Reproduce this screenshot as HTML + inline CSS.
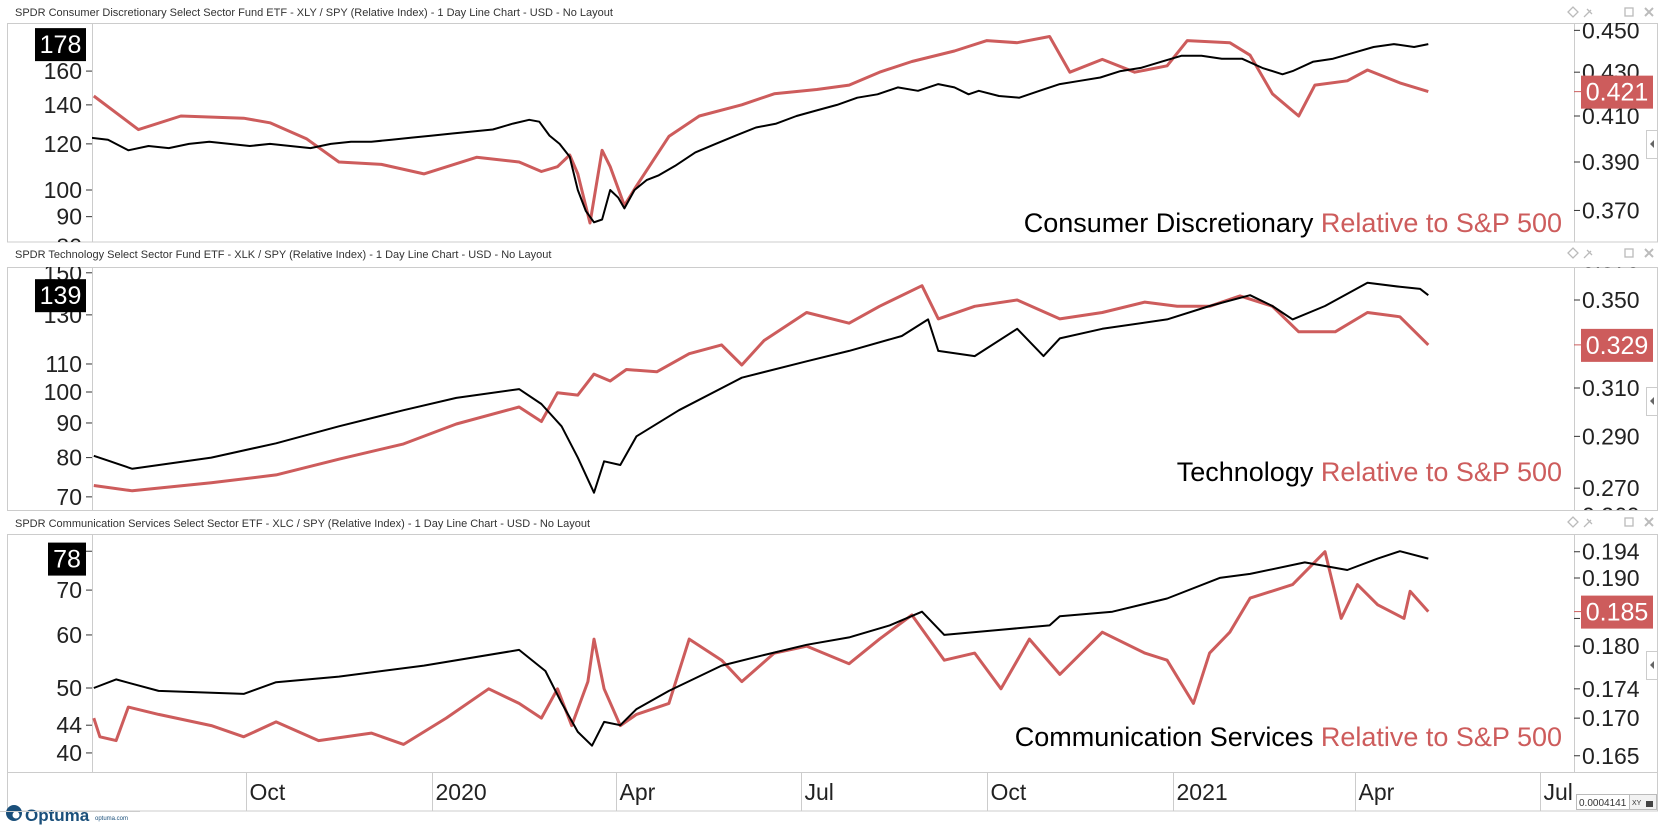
<!DOCTYPE html>
<html><head><meta charset="utf-8"><title>Sector relative charts</title>
<style>
html,body{margin:0;padding:0;background:#fff;}
svg{display:block;font-family:"Liberation Sans",sans-serif;}
.ttl{font-size:11px;fill:#333;}
.ax{font-size:23px;fill:#222;}
.xl{font-size:23px;fill:#222;}
</style></head>
<body>
<svg id="chart" width="1665" height="827" viewBox="0 0 1665 827" xmlns="http://www.w3.org/2000/svg">
<defs>
<clipPath id="cp1"><rect x="7" y="23" width="1651" height="219"/></clipPath>
<clipPath id="cp2"><rect x="7" y="267" width="1651" height="243"/></clipPath>
<clipPath id="cp3"><rect x="7" y="534" width="1651" height="238"/></clipPath>
<clipPath id="pp1"><rect x="92" y="23" width="1482" height="219"/></clipPath>
<clipPath id="pp2"><rect x="92" y="267" width="1482" height="243"/></clipPath>
<clipPath id="pp3"><rect x="92" y="534" width="1482" height="238"/></clipPath>
</defs>
<rect width="1665" height="827" fill="#fff"/>
<text class="ttl" x="15" y="16">SPDR Consumer Discretionary Select Sector Fund ETF - XLY / SPY (Relative Index) - 1 Day Line Chart - USD - No Layout</text>
<text class="ttl" x="15" y="258">SPDR Technology Select Sector Fund ETF - XLK / SPY (Relative Index) - 1 Day Line Chart - USD - No Layout</text>
<text class="ttl" x="15" y="527">SPDR Communication Services Select Sector ETF - XLC / SPY (Relative Index) - 1 Day Line Chart - USD - No Layout</text>
<g id="icons" fill="none" stroke="#bbb" stroke-width="1.3"></g>
<rect x="7.5" y="23.5" width="1650" height="218.5" fill="none" stroke="#ccc"/>
<rect x="7.5" y="267.5" width="1650" height="243" fill="none" stroke="#ccc"/>
<rect x="7.5" y="534.5" width="1650" height="238" fill="none" stroke="#ccc"/>
<g stroke="#ccc">
<line x1="92.5" y1="23" x2="92.5" y2="242"/><line x1="1574.5" y1="23" x2="1574.5" y2="242"/>
<line x1="92.5" y1="267" x2="92.5" y2="510"/><line x1="1574.5" y1="267" x2="1574.5" y2="510"/>
<line x1="92.5" y1="534" x2="92.5" y2="772"/><line x1="1574.5" y1="534" x2="1574.5" y2="772"/>
</g>
<rect x="7.5" y="772.5" width="1650" height="38.5" fill="none" stroke="#ccc"/>
<g id="xaxis"></g>
<g id="p1" clip-path="url(#cp1)"></g>
<g id="p2" clip-path="url(#cp2)"></g>
<g id="p3" clip-path="url(#cp3)"></g>
<g fill="#fff" stroke="#ccc">
<rect x="1646.5" y="130.5" width="11" height="28"/>
<rect x="1646.5" y="387.5" width="11" height="28"/>
<rect x="1646.5" y="651.5" width="11" height="28"/>
</g>
<g fill="#666"><path d="M1654 140 l-4 4 l4 4z"/><path d="M1654 397 l-4 4 l4 4z"/><path d="M1654 661 l-4 4 l4 4z"/></g>
<g>
<circle cx="14" cy="813" r="8" fill="#1a4f7a"/><circle cx="16" cy="815" r="3.5" fill="#fff"/>
<text x="25" y="821" font-size="17" fill="#1a4f7a" font-weight="bold">Optuma</text>
<text x="95" y="820" font-size="6" fill="#1a4f7a">optuma.com</text>
</g>
<line x1="0" y1="811.5" x2="140" y2="811.5" stroke="#ccc"/>
<g>
<rect x="1576.5" y="794.5" width="53" height="15" fill="#fff" stroke="#bbb"/>
<text x="1579" y="806" font-size="10" fill="#333">0.0004141</text>
<rect x="1629.5" y="794.5" width="27" height="15" fill="#f2f2f2" stroke="#bbb"/>
<text x="1632" y="805" font-size="7" fill="#333">XY</text>
<rect x="1646" y="801" width="7" height="6" fill="#444"/>
</g>
</svg>
<script>
const xAxisDays = [-92, 0, 91, 182, 274, 366, 456, 547];
const xAxisLabels = ["Oct", "2020", "Apr", "Jul", "Oct", "2021", "Apr", "Jul"];

const xlyDays = [-169,-160,-150,-140,-130,-120,-110,-100,-90,-80,-70,-60,-50,-40,-30,-20,-10,0,10,20,30,40,48,53,58,63,68,72,76,80,84,88,92,95,100,106,112,120,130,140,150,160,170,180,190,200,210,220,230,240,250,258,265,270,280,290,300,310,320,330,340,350,360,370,380,390,400,410,420,425,435,445,455,465,475,485,492];
const xlyPrice = [123,122,117,119,118,120,121,120,119,120,119,118,120,121,121,122,123,124,125,126,127,130,132,131,124,120,114,100,92,88,89,100,97,93,100,104,106,110,116,120,124,128,130,134,137,140,144,146,150,148,152,150,146,148,145,144,148,152,154,156,160,162,166,170,170,168,168,162,158,160,166,168,172,176,178,176,178];
const xlyRelDays = [-167,-145,-124,-93,-80,-62,-46,-25,-4,22,43,54,62,68,72,78,84,88,95,101,117,132,153,169,190,206,221,237,258,274,289,305,315,331,347,363,373,394,404,415,428,436,452,462,478,492];
const xlyRel = [0.419,0.404,0.410,0.409,0.407,0.400,0.390,0.389,0.385,0.392,0.390,0.386,0.388,0.393,0.385,0.365,0.395,0.388,0.372,0.380,0.401,0.410,0.415,0.420,0.422,0.424,0.430,0.435,0.440,0.445,0.444,0.447,0.430,0.436,0.430,0.433,0.445,0.444,0.438,0.420,0.410,0.424,0.426,0.431,0.425,0.421];

const xlkDays = [-167,-148,-109,-77,-46,-14,12,43,54,64,72,80,85,93,101,122,153,185,206,232,245,250,268,289,302,310,331,363,384,404,415,425,441,462,478,488,492];
const xlkPrice = [80.5,77,80,84,89,94,98,101,96,89,80,71,79,78,86,94,105,111,115,121,128,115,113,124,113,120,124,128,134,139,134,128,134,145,143,142,139];
const xlkRelDays = [-167,-148,-109,-77,-46,-14,12,43,54,62,72,80,88,96,111,127,143,153,164,185,206,221,242,250,268,289,310,331,352,368,384,399,415,428,446,462,478,492];
const xlkRel = [0.271,0.269,0.272,0.275,0.281,0.287,0.295,0.302,0.296,0.308,0.307,0.316,0.313,0.318,0.317,0.325,0.329,0.320,0.331,0.344,0.339,0.347,0.357,0.341,0.347,0.350,0.341,0.344,0.349,0.347,0.347,0.352,0.347,0.335,0.335,0.344,0.342,0.329];

const xlcDays = [-167,-156,-135,-93,-77,-46,-4,43,56,64,72,79,85,93,101,117,143,164,185,206,226,242,253,279,305,310,336,363,389,404,431,452,467,478,492];
const xlcPrice = [50,51.5,49.5,49,51,52,54,57,53,47.5,43,41,44.5,44,46.5,49.5,54,56,58,59.5,62,65,60,61,62,64,65,68,73,74,77,75,78,80,78];
const xlcRelDays = [-167,-164,-156,-150,-135,-109,-93,-77,-56,-30,-14,7,28,43,54,62,69,77,80,85,93,101,117,127,143,153,169,185,206,221,237,253,268,281,295,310,331,352,363,376,384,394,404,425,441,449,457,467,480,483,492];
const xlcRel = [0.170,0.1675,0.167,0.1715,0.1705,0.169,0.1675,0.1695,0.167,0.168,0.1665,0.170,0.174,0.172,0.170,0.174,0.169,0.175,0.181,0.174,0.169,0.1705,0.172,0.181,0.178,0.175,0.179,0.180,0.1775,0.181,0.1845,0.178,0.179,0.174,0.181,0.176,0.182,0.179,0.178,0.172,0.179,0.182,0.187,0.189,0.194,0.184,0.189,0.186,0.184,0.188,0.185];

const p1LeftTicks = [80, 90, 100, 120, 140, 160];
const p1RightTicks = [0.370, 0.390, 0.410, 0.430, 0.450];
const p2LeftTicks = [70, 80, 90, 100, 110, 130, 150];
const p2RightTicks = [0.260, 0.270, 0.290, 0.310, 0.350, 0.370];
const p3LeftTicks = [40, 44, 50, 60, 70, 80];
const p3RightTicks = [0.165, 0.170, 0.174, 0.180, 0.184, 0.190, 0.194];

const NS = "http://www.w3.org/2000/svg";
const X0 = 432, XK = 2.025;
function xScale(d) { return X0 + XK * d; }
function logScale(refV, refY, k) { return v => refY - k * Math.log(v / refV); }

const panels = [
  { g: "p1", clip: "pp1", name: "consumer-discretionary",
    left: logScale(100, 190, 253), right: logScale(0.41, 116, 920),
    lt: p1LeftTicks, rt: p1RightTicks, rdec: 3,
    pd: xlyDays, pv: xlyPrice, rd: xlyRelDays, rv: xlyRel,
    title: "Consumer Discretionary", titleY: 232 },
  { g: "p2", clip: "pp2", name: "technology",
    left: logScale(100, 392, 294), right: logScale(0.31, 388, 725),
    lt: p2LeftTicks, rt: p2RightTicks, rdec: 3,
    pd: xlkDays, pv: xlkPrice, rd: xlkRelDays, rv: xlkRel,
    title: "Technology", titleY: 481 },
  { g: "p3", clip: "pp3", name: "communication-services",
    left: logScale(50, 688, 291), right: logScale(0.19, 578, 1260),
    lt: p3LeftTicks, rt: p3RightTicks, rdec: 3,
    pd: xlcDays, pv: xlcPrice, rd: xlcRelDays, rv: xlcRel,
    title: "Communication Services", titleY: 746 }
];

function mk(tag, attrs, parent) {
  const e = document.createElementNS(NS, tag);
  for (const k in attrs) e.setAttribute(k, attrs[k]);
  parent.appendChild(e);
  return e;
}
function pathD(days, vals, sc) {
  return days.map((d, i) => (i ? "L" : "M") + xScale(d).toFixed(1) + " " + sc(vals[i]).toFixed(1)).join(" ");
}

panels.forEach((p) => {
  const g = document.getElementById(p.g);
  p.lt.forEach(v => {
    const y = p.left(v);
    const t = mk("line", { x1: 86, x2: 92, y1: y, y2: y, stroke: "#333" }, g);
    
    
    const l = mk("text", { x: 82, y: y + 8, "text-anchor": "end", class: "ax" }, g);
    l.textContent = String(v);
    
    
  });
  p.rt.forEach(v => {
    const y = p.right(v);
    const t = mk("line", { x1: 1574, x2: 1580, y1: y, y2: y, stroke: "#333" }, g);
    
    
    const l = mk("text", { x: 1582, y: y + 8, class: "ax" }, g);
    l.textContent = v.toFixed(p.rdec);
    
    
  });
  const pg = mk("g", { "clip-path": "url(#" + p.clip + ")" }, g);
  const rl = mk("path", { d: pathD(p.rd, p.rv, p.right), fill: "none", stroke: "#cd5c5c", "stroke-width": 3, "stroke-linejoin": "round" }, pg);
  
  
  const bl = mk("path", { d: pathD(p.pd, p.pv, p.left), fill: "none", stroke: "#000", "stroke-width": 2, "stroke-linejoin": "round" }, pg);
  
  
  const tt = mk("text", { x: 1562, y: p.titleY, "text-anchor": "end", "font-size": 27 }, g);
  
  
  const s1 = mk("tspan", { fill: "#000" }, tt); s1.textContent = p.title + " ";
  const s2 = mk("tspan", { fill: "#cd5c5c" }, tt); s2.textContent = "Relative to S&P 500";
  const lastP = p.pv[p.pv.length - 1], lastR = p.rv[p.rv.length - 1];
  const ly = p.left(lastP), ry = p.right(lastR);
  const lw = String(Math.round(lastP)).length > 2 ? 51 : 38;
  const lb = mk("rect", { x: 86 - lw, y: ly - 16, width: lw, height: 33, fill: "#000" }, g);
  
  
  const lt = mk("text", { x: 86 - lw / 2, y: ly + 9, "text-anchor": "middle", "font-size": 25, fill: "#fff" }, g);
  lt.textContent = String(Math.round(lastP));
  
  
  mk("line", { x1: 1574, x2: 1581, y1: ry, y2: ry, stroke: "#cd5c5c" }, g);
  const rb = mk("rect", { x: 1581, y: ry - 16, width: 72, height: 33, fill: "#cd5c5c" }, g);
  
  
  const rt = mk("text", { x: 1617, y: ry + 9, "text-anchor": "middle", "font-size": 25, fill: "#fff" }, g);
  rt.textContent = lastR.toFixed(3);
  
  
});

const xg = document.getElementById("xaxis");
xAxisDays.forEach((d, i) => {
  const x = Math.round(xScale(d)) + 0.5;
  if (x > 1574) return;
  const ln = mk("line", { x1: x, x2: x, y1: 772, y2: 811, stroke: "#ccc" }, xg);
  
  
  const t = mk("text", { x: x + 3, y: 800, class: "xl" }, xg);
  t.textContent = xAxisLabels[i];
  
  
});

const ic = document.getElementById("icons");
[12, 253, 522].forEach(cy => {
  const dm = mk("path", { d: `M1568 ${cy} l5 -5 l5 5 l-5 5z` }, ic);
  
  
  const pin = mk("path", { d: `M1584 ${cy + 5} l5 -5 m-2 -3 l5 5 m-4 -1 l3 -3`, stroke: "#bbb" }, ic);
  
  
  const sq = mk("rect", { x: 1625, y: cy - 4, width: 8, height: 8 }, ic);
  
  
  const cl = mk("path", { d: `M1645 ${cy - 4} l8 8 m0 -8 l-8 8`, "stroke-width": 2 }, ic);
  
  
});
</script>
</body></html>
